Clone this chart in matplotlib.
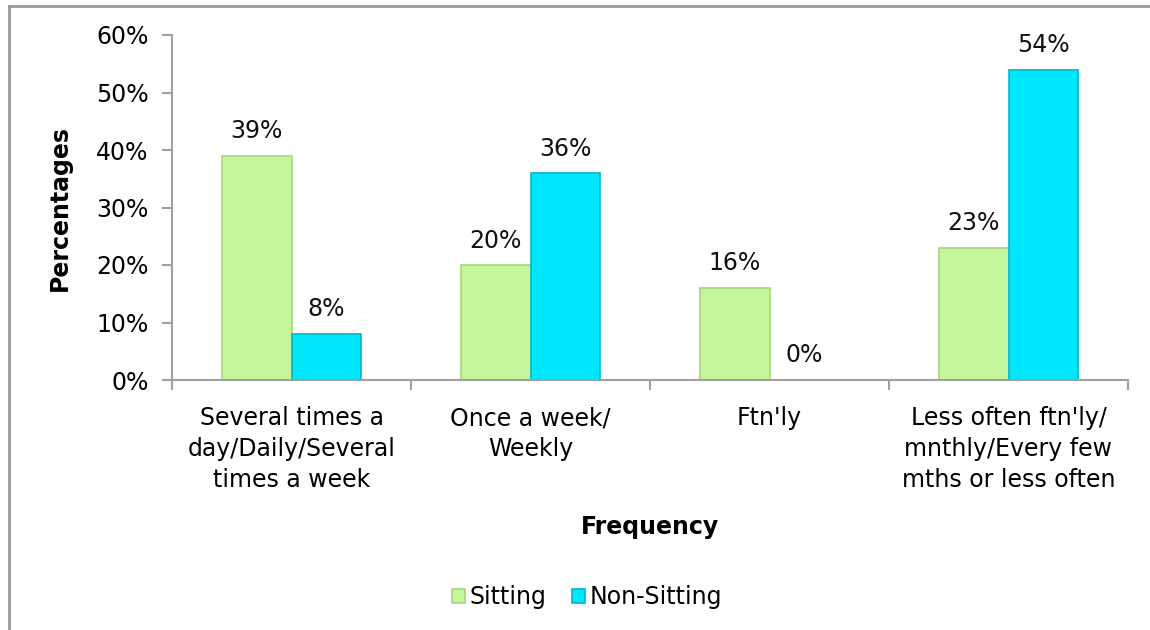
import numpy as np
import matplotlib
matplotlib.use('Agg')
import matplotlib.pyplot as plt
from matplotlib.lines import Line2D
from matplotlib.ticker import PercentFormatter

categories = ['Several times a\nday/Daily/Several\ntimes a week',
              'Once a week/\nWeekly',
              "Ftn'ly",
              "Less often ftn'ly/\nmnthly/Every few\nmths or less often"]
sitting = [39, 20, 16, 23]
non_sitting = [8, 36, 0, 54]
series_names = ['Sitting', 'Non-Sitting']
y_ticks = [0, 10, 20, 30, 40, 50, 60]

green = '#c4f79b'
green_edge = '#a5d67c'
blue = '#00e6fb'
blue_edge = '#00b8cc'
fs = 17

plt.rcParams['font.family'] = ['DejaVu Sans']

fig = plt.figure(figsize=(11.5, 6.3), dpi=100)
ax = fig.add_axes([172 / 1150, 1 - 380 / 630, (1128 - 172) / 1150, (380 - 35) / 630])

x = np.arange(len(categories))
w = 0.29  # bar width in category units
b1 = ax.bar(x - w / 2, sitting, w, color=green, edgecolor=green_edge, linewidth=1.2, label=series_names[0])
b2 = ax.bar(x + w / 2, non_sitting, w, color=blue, edgecolor=blue_edge, linewidth=1.2, label=series_names[1])

# value labels above the bars
for bars, vals in ((b1, sitting), (b2, non_sitting)):
    for r, v in zip(bars, vals):
        ax.annotate('%d%%' % v, (r.get_x() + r.get_width() / 2, v), xytext=(0, 9),
                    textcoords='offset points', ha='center', va='bottom', fontsize=fs, color='#111111')

ax.set_xlim(-0.5, len(categories) - 0.5)
ax.set_ylim(0, 60)
ax.set_yticks(y_ticks)
ax.yaxis.set_major_formatter(PercentFormatter(decimals=0))

# category ticks sit between groups, labels centred under them
ax.set_xticks(np.arange(-0.5, len(categories), 1.0))
ax.set_xticklabels([])
ax.set_xticks(x, minor=True)
ax.set_xticklabels(categories, minor=True, fontsize=fs, linespacing=1.35)
ax.tick_params(axis='x', which='minor', length=0, pad=19)
ax.tick_params(axis='x', which='major', length=7, width=1.5, color='#a0a0a0', direction='out')
ax.tick_params(axis='y', length=7, width=1.5, color='#a0a0a0', labelsize=fs, pad=10)

for s in ('top', 'right'):
    ax.spines[s].set_visible(False)
for s in ('left', 'bottom'):
    ax.spines[s].set_color('#a0a0a0')
    ax.spines[s].set_linewidth(1.5)

fig.text(650 / 1150, 1 - 527 / 630, 'Frequency', ha='center', va='center', fontsize=fs, fontweight='bold')
fig.text(60 / 1150, 1 - 208 / 630, 'Percentages', ha='center', va='center', fontsize=fs,
         fontweight='bold', rotation=90)

fig.legend(handles=[b1, b2], labels=series_names, loc='center', bbox_to_anchor=(587 / 1150, 1 - 597 / 630),
           ncol=2, frameon=False, fontsize=fs, handlelength=0.55, handleheight=0.55,
           handletextpad=0.2, columnspacing=1.1)

# outer chart frame (left and top edges visible)
fig.add_artist(Line2D([8.5 / 1150, 8.5 / 1150], [0, 1 - 6 / 630], transform=fig.transFigure,
                      color='#999999', linewidth=2))
fig.add_artist(Line2D([8.5 / 1150, 1], [1 - 6 / 630, 1 - 6 / 630], transform=fig.transFigure,
                      color='#999999', linewidth=2))

fig.savefig('out.png', dpi=100)
